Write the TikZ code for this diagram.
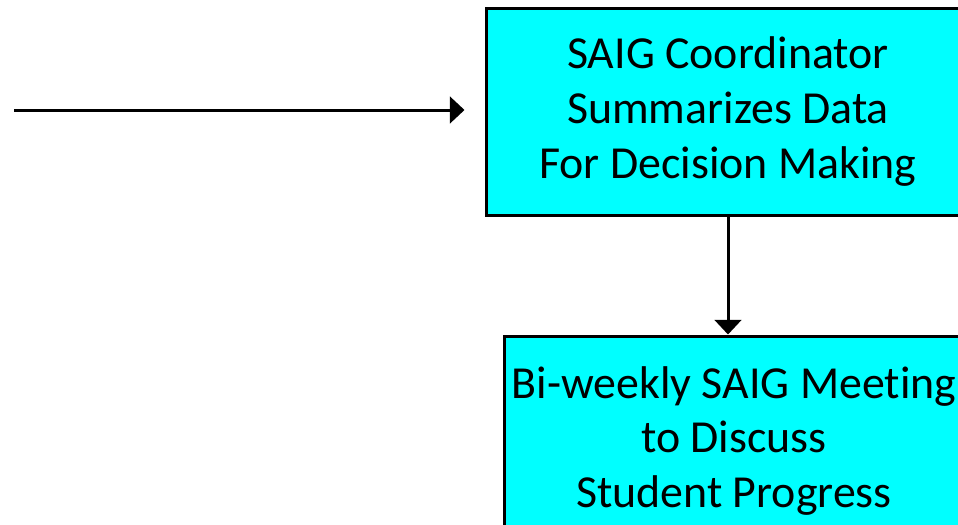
\documentclass[tikz,border=0pt]{standalone}
\usepackage{fontspec}
\setmainfont[Ligatures=NoCommon]{Carlito}
\usetikzlibrary{arrows.meta}
\definecolor{boxcyan}{RGB}{0,255,255}
\begin{document}
\begin{tikzpicture}[x=0.75pt,y=-0.75pt,
  stepbox/.style={draw=black, fill=boxcyan, line width=2.25pt, align=center, inner sep=0pt,
    font=\fontsize{34.4}{41}\selectfont},
  flow/.style={line width=2.25pt, -{Triangle[width=20pt,length=11pt]}}]
\useasboundingbox (0,0) rectangle (958,525);
\node (coordinator) [stepbox, minimum width=363pt, minimum height=155.25pt] at (728,111.5)
  {SAIG Coordinator\\Summarizes Data\\For Decision Making};
\node (meeting) [stepbox, minimum width=345pt, minimum height=157.5pt] at (734,441)
  {Bi-weekly SAIG Meeting\\to Discuss\\Student Progress};
\coordinate (start) at (14,110);
\draw [flow, shorten >=15pt] (start) -- (start -| coordinator.west);
\draw [flow] (coordinator.south) -- (coordinator.south |- meeting.north);
\end{tikzpicture}
\end{document}
